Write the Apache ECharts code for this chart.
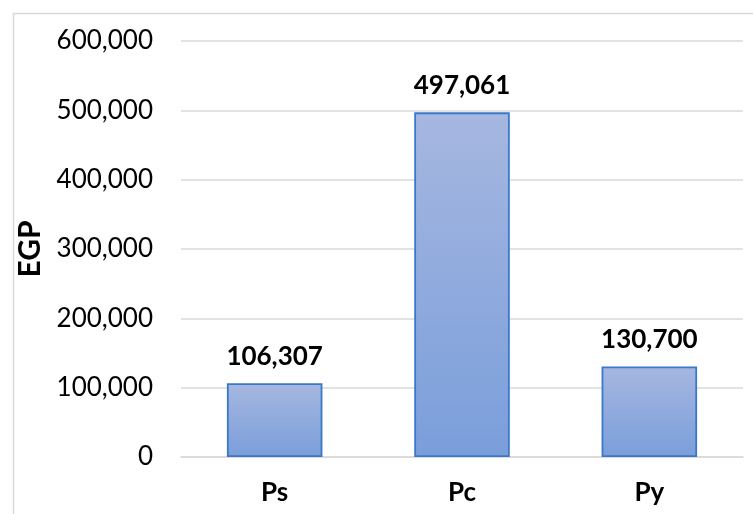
<!DOCTYPE html>
<html>
<head>
<meta charset="utf-8">
<script src="https://cdn.jsdelivr.net/npm/echarts@6/dist/echarts.min.js"></script>
<style>
html,body{margin:0;padding:0;background:#fff;}
#chart{width:753px;height:514px;}
</style>
</head>
<body>
<div id="chart"></div>
<script>
const categories = ['Ps', 'Pc', 'Py'];
const values = [106307, 497061, 130700];
const yTicks = { min: 0, max: 600000, interval: 100000 };
const yAxisTitle = 'EGP';

const fmt = v => Number(v).toLocaleString('en-US');

const chart = echarts.init(document.getElementById('chart'), null, { renderer: 'canvas' });
chart.setOption({
  animation: false,
  backgroundColor: '#ffffff',
  graphic: [{
    type: 'polyline',
    shape: { points: [[13.5, 520], [13.5, 13.5], [760, 13.5]] },
    style: { stroke: '#d9d9d9', lineWidth: 1.5, fill: null }
  }],
  grid: { left: 181, right: 10, top: 41, bottom: 57 },
  xAxis: {
    type: 'category',
    data: categories,
    axisLine: { show: true, lineStyle: { color: '#d9d9d9', width: 1.5 } },
    axisTick: { show: false },
    axisLabel: { margin: 23, color: '#000', fontFamily: 'Lato', fontWeight: 'bold', fontSize: 26 }
  },
  yAxis: {
    type: 'value',
    min: yTicks.min, max: yTicks.max, interval: yTicks.interval,
    name: yAxisTitle,
    nameLocation: 'middle',
    nameGap: 122,
    nameTextStyle: { color: '#000', fontFamily: 'Lato', fontWeight: 'bold', fontSize: 30 },
    axisLine: { show: false },
    axisTick: { show: false },
    axisLabel: { margin: 28, color: '#000', fontFamily: 'Lato', fontSize: 26, formatter: fmt },
    splitLine: { lineStyle: { color: '#d9d9d9', width: 1.5 } }
  },
  series: [{
    type: 'bar',
    data: values,
    barCategoryGap: '49%',
    itemStyle: {
      color: new echarts.graphic.LinearGradient(0, 0, 0, 1, [
        { offset: 0, color: '#a6b7e0' },
        { offset: 1, color: '#7a9edb' }
      ]),
      borderColor: '#3a78c9',
      borderWidth: 1.8
    },
    label: {
      show: true,
      position: 'top',
      distance: 14,
      color: '#000',
      fontFamily: 'Lato',
      fontWeight: 'bold',
      fontSize: 26,
      formatter: p => fmt(p.value)
    }
  }]
});
</script>
</body>
</html>
